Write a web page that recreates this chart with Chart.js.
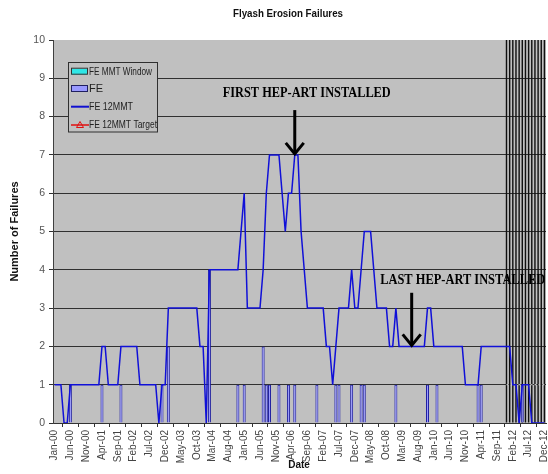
<!DOCTYPE html>
<html>
<head>
<meta charset="utf-8">
<script src="https://cdn.jsdelivr.net/npm/chart.js@4.4.1/dist/chart.umd.min.js"></script>
<style>
  html, body { margin: 0; padding: 0; background: #ffffff; }
  #wrap { width: 548px; height: 474px; }
</style>
</head>
<body>
<div id="wrap"><canvas id="chart" width="548" height="474"></canvas></div>
<script>
// Monthly categories, Jan-00 through Dec-12
const monthNames = ['Jan','Feb','Mar','Apr','May','Jun','Jul','Aug','Sep','Oct','Nov','Dec'];
const yearCodes = ['00','01','02','03','04','05','06','07','08','09','10','11','12'];
const categories = yearCodes.flatMap(y => monthNames.map(m => m + '-' + y));

// Rolling 12-month total of flyash erosion failures
const fe12mmt = [
  1,1,1,0,0,1,1,1,1,1,1,1,
  1,1,1,2,2,1,1,1,1,2,2,2,
  2,2,2,1,1,1,1,1,1,0,1,1,
  3,3,3,3,3,3,3,3,3,3,2,2,
  0,4,4,4,4,4,4,4,4,4,4,5,
  6,3,3,3,3,3,4,6,7,7,7,7,
  6,5,6,6,7,7,5,4,3,3,3,3,
  3,3,2,2,1,2,3,3,3,3,4,3,
  3,4,5,5,5,4,3,3,3,3,2,2,
  3,2,2,2,2,2,2,2,2,2,3,3,
  2,2,2,2,2,2,2,2,2,2,1,1,
  1,1,1,2,2,2,2,2,2,2,2,2,
  2,1,1,0,1,1,1,0,0,0,0,0
];

// Individual failures: month and count
const failureMonths = ['Jun-00','Apr-01','Oct-01','Nov-02','Jan-03','Feb-04','Nov-04','Jan-05',
  'Jul-05','Aug-05','Sep-05','Dec-05','Mar-06','May-06','Dec-06','Jun-07','Jul-07','Nov-07',
  'Feb-08','Mar-08','Jan-09','Nov-09','Feb-10','Mar-11','Apr-11','May-12'];
const failureCounts = [1,1,1,1,2,4,1,1, 2,1,1,1,1,1,1,1,1,1, 1,1,1,1,1,1,1,1];

// Measurement window and target
const windowStart = 'Dec-11';
const windowLevel = 10;
const targetLevel = 1;

// Y axis range
const yMin = 0, yMax = 10, yStep = 1;

// Annotation anchors
const firstInstall = { month: 'May-06', text: 'FIRST HEP-ART INSTALLED', tip: 7, tail: 8.17 };
const lastInstall = { month: 'Jun-09', text: 'LAST HEP-ART INSTALLED', tip: 2, tail: 3.4 };

// Build per-month series from the lists above
const feData = categories.map(() => null);
failureMonths.forEach((m, k) => { feData[categories.indexOf(m)] = failureCounts[k]; });
const windowIdx = categories.indexOf(windowStart);
const windowData = categories.map((c, i) => i >= windowIdx ? windowLevel : null);
const targetData = categories.map((c, i) => i >= windowIdx ? targetLevel : null);

Chart.defaults.font.family = '"Liberation Sans", Arial, sans-serif';

const decorations = {
  id: 'decorations',
  beforeDraw(chart) {
    const { ctx, chartArea: a } = chart;
    ctx.save();
    ctx.fillStyle = '#C0C0C0';
    ctx.fillRect(a.left, a.top, a.right - a.left, a.bottom - a.top);
    ctx.restore();
  },
  afterDatasetsDraw(chart) {
    const { ctx, chartArea: a, scales } = chart;
    const x = scales.x, y = scales.y;
    ctx.save();

    // chart title
    ctx.fillStyle = '#111';
    ctx.font = 'bold 11px "Liberation Sans", Arial, sans-serif';
    ctx.textAlign = 'center';
    ctx.textBaseline = 'middle';
    ctx.fillText('Flyash Erosion Failures', 288, 14, 110);

    // x axis title
    ctx.font = 'bold 10px "Liberation Sans", Arial, sans-serif';
    ctx.fillText('Date', 299, 465);

    // install markers
    const marker = (m, dx, textY, maxW) => {
      const px = x.getPixelForValue(categories.indexOf(m.month));
      const y0 = y.getPixelForValue(m.tail), y1 = y.getPixelForValue(m.tip);
      ctx.strokeStyle = '#000';
      ctx.lineWidth = 3;
      ctx.lineJoin = 'miter';
      ctx.beginPath(); ctx.moveTo(px, y0); ctx.lineTo(px, y1 - 2); ctx.stroke();
      ctx.beginPath(); ctx.moveTo(px - 9, y1 - 12); ctx.lineTo(px, y1 - 1); ctx.lineTo(px + 9, y1 - 12); ctx.stroke();
      ctx.fillStyle = '#000';
      ctx.font = 'bold 14px "Liberation Serif", "Times New Roman", serif';
      ctx.textAlign = 'center';
      ctx.textBaseline = 'middle';
      ctx.fillText(m.text, px + dx, textY, maxW);
    };
    marker(firstInstall, 12, 93, 168);
    marker(lastInstall, 51, 280, 165);

    // legend
    const lx = a.left + 15, ly = a.top + 22, lw = 89, lh = 69.5;
    ctx.fillStyle = '#C0C0C0';
    ctx.fillRect(lx, ly, lw, lh);
    ctx.strokeStyle = '#303030';
    ctx.lineWidth = 1;
    ctx.strokeRect(lx + 0.5, ly + 0.5, lw, lh);
    const rows = [ly + 9.7, ly + 27, ly + 44.7, ly + 63];
    const sx = lx + 3, sw = 16;
    // window swatch
    ctx.fillStyle = '#2EE6E6'; ctx.fillRect(sx, rows[0] - 3, sw, 6);
    ctx.strokeStyle = '#333'; ctx.strokeRect(sx + 0.5, rows[0] - 3.5, sw, 6);
    // failures swatch
    ctx.fillStyle = '#9999FF'; ctx.fillRect(sx, rows[1] - 3, sw, 6);
    ctx.strokeStyle = '#202060'; ctx.strokeRect(sx + 0.5, rows[1] - 3.5, sw, 6);
    // 12MMT line
    ctx.strokeStyle = '#1010D0'; ctx.lineWidth = 2;
    ctx.beginPath(); ctx.moveTo(sx, rows[2]); ctx.lineTo(sx + sw + 2, rows[2]); ctx.stroke();
    // target line with triangle
    ctx.strokeStyle = '#E01010'; ctx.lineWidth = 1.5;
    ctx.beginPath(); ctx.moveTo(sx, rows[3]); ctx.lineTo(sx + sw + 2, rows[3]); ctx.stroke();
    ctx.lineWidth = 1;
    ctx.beginPath();
    ctx.moveTo(sx + 9, rows[3] - 3.5); ctx.lineTo(sx + 12.5, rows[3] + 2.5); ctx.lineTo(sx + 5.5, rows[3] + 2.5); ctx.closePath();
    ctx.stroke();
    ctx.fillStyle = '#222';
    ctx.font = '11px "Liberation Sans", Arial, sans-serif';
    ctx.textAlign = 'left';
    ctx.textBaseline = 'middle';
    const names = ['FE MMT Window', 'FE', 'FE 12MMT', 'FE 12MMT Target'];
    const widths = [63, 20, 44, 68];
    names.forEach((n, k) => ctx.fillText(n, sx + sw + 2, rows[k], widths[k]));

    ctx.restore();
  }
};

new Chart(document.getElementById('chart'), {
  type: 'bar',
  data: {
    labels: categories,
    datasets: [
      { type: 'line', label: 'FE 12MMT', data: fe12mmt, borderColor: '#1010D8', borderWidth: 1.5,
        pointRadius: 0, tension: 0, order: 0 },
      { type: 'line', label: 'FE 12MMT Target', data: targetData, borderColor: '#E6E6E6', borderWidth: 1,
        borderDash: [2, 2], pointRadius: 0, pointStyle: 'triangle', tension: 0, order: 1 },
      { label: 'FE', data: feData, backgroundColor: '#9999FF', borderColor: '#2020A0', borderWidth: 1,
        barPercentage: 0.95, categoryPercentage: 1, grouped: false, order: 2 },
      { label: 'FE MMT Window', data: windowData, backgroundColor: '#101010', borderWidth: 0,
        barPercentage: 0.45, categoryPercentage: 1, grouped: false, order: 3 }
    ]
  },
  options: {
    responsive: false,
    animation: false,
    devicePixelRatio: 1,
    layout: { padding: { top: 40, right: 2, bottom: 0, left: 0 } },
    plugins: { legend: { display: false }, title: { display: false }, tooltip: { enabled: false } },
    scales: {
      x: {
        offset: true,
        grid: { offset: true, drawOnChartArea: false, tickLength: 4, color: '#333' },
        border: { color: '#333' },
        ticks: {
          autoSkip: false, maxRotation: 90, minRotation: 90, padding: 3,
          font: { size: 10 }, color: '#444',
          callback(v, i) { return i % 5 === 0 ? this.getLabelForValue(v) : null; }
        },
        afterFit(s) { s.height = 51; s.paddingLeft = 0; s.paddingRight = 0; }
      },
      y: {
        min: yMin, max: yMax,
        ticks: { stepSize: yStep, padding: 4, font: { size: 10.5 }, color: '#555' },
        grid: {
          color: c => (c.tick && c.tick.value === yMax) ? 'rgba(0,0,0,0)' : '#303030',
          tickColor: '#303030', tickLength: 4
        },
        border: { color: '#404040' },
        title: { display: true, text: 'Number of Failures', font: { size: 11, weight: 'bold' }, color: '#111',
                 padding: { top: 8, bottom: 0 } },
        afterFit(s) { s.width = 53; }
      }
    }
  },
  plugins: [decorations]
});
</script>
</body>
</html>
